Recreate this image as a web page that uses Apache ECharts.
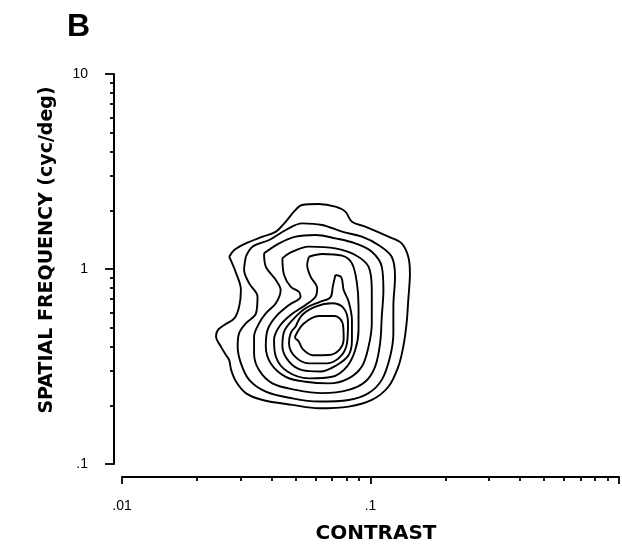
<!DOCTYPE html>
<html>
<head>
<meta charset="utf-8">
<script src="https://cdn.jsdelivr.net/npm/echarts@6/dist/echarts.min.js"></script>
<style>
html, body { margin: 0; padding: 0; background: #fff; }
#chart { width: 622px; height: 555px; }
</style>
</head>
<body>
<div id="chart"></div>
<script>
// contour lines, [contrast, spatial frequency], outer to inner
const contour1 = [[0.0270,1.156],[0.0283,1.252],[0.0315,1.354],[0.0368,1.465],[0.0416,1.554],[0.0456,1.749],[0.0492,1.968],[0.0531,2.129],[0.0619,2.154],[0.0722,2.087],[0.0792,1.968],[0.0842,1.749],[0.0952,1.649],[0.1180,1.465],[0.1335,1.354],[0.1419,1.156],[0.1441,0.950],[0.1419,0.694],[0.1397,0.526],[0.1355,0.400],[0.1294,0.316],[0.1180,0.249],[0.1012,0.213],[0.0817,0.197],[0.0619,0.193],[0.0485,0.201],[0.0368,0.213],[0.0315,0.231],[0.0288,0.264],[0.0275,0.303],[0.0270,0.341],[0.0262,0.362],[0.0250,0.400],[0.0239,0.450],[0.0243,0.486],[0.0258,0.516],[0.0283,0.558],[0.0296,0.641],[0.0301,0.780],[0.0288,0.950],[0.0270,1.156]]
const contour2 = [[0.0315,1.156],[0.0335,1.302],[0.0391,1.408],[0.0456,1.585],[0.0531,1.714],[0.0639,1.681],[0.0768,1.554],[0.0923,1.465],[0.1076,1.328],[0.1217,1.156],[0.1255,0.913],[0.1236,0.641],[0.1236,0.468],[0.1199,0.355],[0.1110,0.270],[0.0982,0.231],[0.0817,0.213],[0.0619,0.209],[0.0485,0.217],[0.0379,0.235],[0.0325,0.270],[0.0301,0.328],[0.0292,0.400],[0.0296,0.468],[0.0315,0.526],[0.0346,0.592],[0.0351,0.721],[0.0325,0.844],[0.0310,0.988],[0.0315,1.156]]
const contour3 = [[0.0373,1.203],[0.0429,1.354],[0.0500,1.465],[0.0601,1.494],[0.0722,1.436],[0.0868,1.354],[0.1012,1.227],[0.1110,1.028],[0.1127,0.780],[0.1110,0.570],[0.1093,0.416],[0.1044,0.316],[0.0952,0.264],[0.0817,0.240],[0.0639,0.231],[0.0500,0.240],[0.0403,0.259],[0.0356,0.303],[0.0340,0.369],[0.0340,0.450],[0.0356,0.526],[0.0379,0.592],[0.0416,0.667],[0.0435,0.780],[0.0416,0.878],[0.0379,1.028],[0.0373,1.203]]
const contour4 = [[0.0442,1.134],[0.0470,1.203],[0.0565,1.302],[0.0722,1.276],[0.0868,1.180],[0.0982,1.028],[0.1012,0.780],[0.1012,0.526],[0.0982,0.400],[0.0923,0.316],[0.0817,0.275],[0.0679,0.259],[0.0548,0.264],[0.0456,0.280],[0.0397,0.328],[0.0379,0.400],[0.0385,0.486],[0.0416,0.570],[0.0470,0.654],[0.0523,0.721],[0.0515,0.765],[0.0477,0.812],[0.0449,0.931],[0.0442,1.134]]
const contour5 = [[0.0565,1.156],[0.0639,1.194],[0.0768,1.170],[0.0842,1.069],[0.0882,0.844],[0.0895,0.641],[0.0895,0.486],[0.0868,0.384],[0.0804,0.316],[0.0700,0.280],[0.0565,0.275],[0.0463,0.298],[0.0416,0.355],[0.0409,0.432],[0.0429,0.506],[0.0477,0.581],[0.0548,0.654],[0.0601,0.721],[0.0610,0.796],[0.0574,0.913],[0.0556,1.048],[0.0565,1.156]]
const contour6 = [[0.0722,0.931],[0.0763,0.906],[0.0780,0.780],[0.0817,0.680],[0.0842,0.547],[0.0842,0.432],[0.0817,0.362],[0.0733,0.322],[0.0629,0.298],[0.0531,0.303],[0.0470,0.335],[0.0442,0.400],[0.0449,0.477],[0.0485,0.547],[0.0548,0.629],[0.0629,0.680],[0.0690,0.716],[0.0705,0.812],[0.0722,0.931]]
const contour7 = [[0.0500,0.506],[0.0531,0.581],[0.0601,0.641],[0.0700,0.667],[0.0780,0.629],[0.0812,0.526],[0.0804,0.416],[0.0756,0.355],[0.0669,0.328],[0.0565,0.328],[0.0497,0.355],[0.0470,0.416],[0.0477,0.468],[0.0500,0.506]]
const contour8 = [[0.0503,0.464],[0.0539,0.526],[0.0619,0.574],[0.0718,0.574],[0.0773,0.526],[0.0780,0.441],[0.0752,0.387],[0.0679,0.362],[0.0586,0.361],[0.0535,0.387],[0.0515,0.424],[0.0497,0.446],[0.0503,0.464]]

const contours = [contour1, contour2, contour3, contour4, contour5, contour6, contour7, contour8]

// axes
const xRange = [0.01, 1]
const yRange = [0.1, 10]
const minorSteps = [2, 3, 4, 5, 6, 7, 8, 9]
const xLabelText = { 0.01: '.01', 0.1: '.1' }
const yLabelText = { 0.1: '.1', 1: '1', 10: '10' }
const xTitle = 'CONTRAST'
const yTitle = 'SPATIAL FREQUENCY (cyc/deg)'

const font = '"Liberation Sans", Arial, sans-serif'
const titleFont = '"DejaVu Sans", sans-serif'

// minor tick positions on a helper log10 axis
function minorTicks(lo, hi) {
  const out = []
  for (let d = lo; d < hi; d++) {
    minorSteps.forEach((m) => out.push(d + Math.log10(m)))
  }
  return out
}

const chart = echarts.init(document.getElementById('chart'), null, { renderer: 'canvas' })

const tickLine = { color: '#000', width: 1.8 }

chart.setOption({
  animation: false,
  backgroundColor: '#fff',
  title: {
    text: 'B',
    left: 62,
    top: 6,
    textStyle: { fontFamily: font, fontWeight: 'bold', fontSize: 32, color: '#000' },
  },
  graphic: [
    {
      type: 'text',
      x: 47,
      y: 250,
      rotation: Math.PI / 2,
      style: {
        text: yTitle,
        align: 'center',
        verticalAlign: 'middle',
        fontFamily: titleFont,
        fontWeight: 'bold',
        fontSize: 19,
        fill: '#000',
      },
    },
    {
      type: 'text',
      x: 376,
      y: 534,
      style: {
        text: xTitle,
        align: 'center',
        verticalAlign: 'middle',
        fontFamily: titleFont,
        fontWeight: 'bold',
        fontSize: 20,
        fill: '#000',
      },
    },
  ],
  grid: { left: 122, right: 1, top: 74, bottom: 91 },
  xAxis: [
    {
      type: 'log',
      logBase: 10,
      min: xRange[0],
      max: xRange[1],
      position: 'bottom',
      offset: 13,
      axisLine: { onZero: false, lineStyle: { color: '#000', width: 2 } },
      axisTick: { length: 7, lineStyle: tickLine },
      axisLabel: {
        margin: 22,
        color: '#000',
        fontFamily: font,
        fontSize: 14,
        formatter: (v) => xLabelText[v] || '',
      },
      splitLine: { show: false },
    },
    {
      type: 'value',
      min: -2,
      max: 0,
      position: 'bottom',
      offset: 13,
      axisLine: { show: false, onZero: false },
      axisTick: { show: true, length: 4, customValues: minorTicks(-2, 0), lineStyle: tickLine },
      axisLabel: { show: false },
      splitLine: { show: false },
    },
  ],
  yAxis: [
    {
      type: 'log',
      logBase: 10,
      min: yRange[0],
      max: yRange[1],
      position: 'left',
      offset: 8,
      axisLine: { onZero: false, lineStyle: { color: '#000', width: 2 } },
      axisTick: { length: 9, lineStyle: tickLine },
      axisLabel: {
        margin: 26,
        color: '#000',
        fontFamily: font,
        fontSize: 14,
        formatter: (v) => yLabelText[v] || '',
      },
      splitLine: { show: false },
    },
    {
      type: 'value',
      min: -1,
      max: 1,
      position: 'left',
      offset: 8,
      axisLine: { show: false, onZero: false },
      axisTick: { show: true, length: 4, customValues: minorTicks(-1, 1), lineStyle: tickLine },
      axisLabel: { show: false },
      splitLine: { show: false },
    },
  ],
  series: contours.map((c) => ({
    type: 'line',
    xAxisIndex: 0,
    yAxisIndex: 0,
    data: c,
    symbol: 'none',
    smooth: 0.35,
    silent: true,
    lineStyle: { color: '#000', width: 1.9 },
  })),
})
</script>
</body>
</html>
